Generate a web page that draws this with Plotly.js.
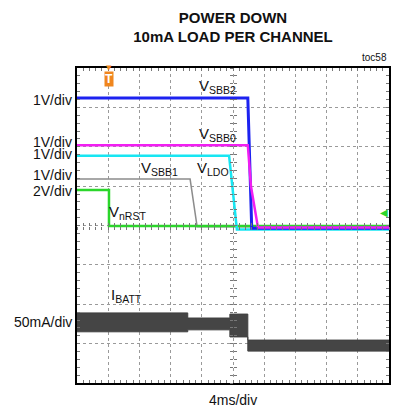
<!DOCTYPE html>
<html>
<head>
<meta charset="utf-8">
<script src="https://cdn.plot.ly/plotly-3.0.1.min.js"></script>
<style>html,body{margin:0;padding:0;background:#fff;}#chart{width:393px;height:410px;}</style>
</head>
<body>
<div id="chart"></div>
<script>
// time in ms (4 ms/div, 10 divisions), level in divisions (8 divisions)
const tSBB2 = [0, 21.9, 22.4, 40];
const vSBB2 = [7.24, 7.24, 3.93, 3.93];
const tSBB0 = [0, 21.9, 22.3, 23.2, 40];
const vSBB0 = [6.04, 6.04, 5.0, 3.95, 3.95];
const tLDO = [0, 19.5, 20.5, 40];
const vLDO = [5.77, 5.77, 3.9, 3.9];
const tSBB1 = [0, 14.5, 15.4, 40];
const vSBB1 = [5.18, 5.18, 3.97, 3.97];
const tNRST = [0, 4.1, 4.1, 40];
const vNRST = [4.9, 4.9, 3.99, 3.99];
const tBATT = [0, 14.2, 14.2, 19.6, 19.6, 21.9, 21.9, 40];
const iBATTupper = [1.78, 1.78, 1.65, 1.65, 1.75, 1.75, 1.09, 1.09];
const iBATTlower = [1.30, 1.30, 1.35, 1.35, 1.17, 1.17, 0.81, 0.81];

const scaleLabels = ['1V/div', '1V/div', '1V/div', '1V/div', '2V/div', '50mA/div'];
const scaleLevels = [7.19, 6.12, 5.82, 5.28, 4.88, 1.55];

const FONT = 'Liberation Sans, Arial, sans-serif';

const traces = [
  {x: [], y: [], xaxis: 'x4', yaxis: 'y4', mode: 'lines'},
  {x: tSBB1, y: vSBB1, mode: 'lines', line: {color: '#8c8c8c', width: 1.5}, name: 'VSBB1'},
  {x: tNRST, y: vNRST, mode: 'lines', line: {color: '#2bd62b', width: 2.5}, name: 'VnRST'},
  {x: tLDO, y: vLDO, mode: 'lines', line: {color: '#17e6f2', width: 2.5}, name: 'VLDO'},
  {x: tSBB2, y: vSBB2, mode: 'lines', line: {color: '#1c22f0', width: 3}, name: 'VSBB2'},
  {x: tSBB0, y: vSBB0, mode: 'lines', line: {color: '#f21ef2', width: 2.5}, name: 'VSBB0'},
  {x: tBATT, y: iBATTlower, mode: 'lines', line: {color: '#404040', width: 1}, name: 'IBATT lo'},
  {x: tBATT, y: iBATTupper, mode: 'lines', fill: 'tonexty', fillcolor: '#454545', line: {color: '#404040', width: 1}, name: 'IBATT hi'},
  {x: [], y: [], xaxis: 'x2', yaxis: 'y', mode: 'lines'},
  {x: [], y: [], xaxis: 'x3', yaxis: 'y', mode: 'lines'},
  {x: [], y: [], xaxis: 'x', yaxis: 'y2', mode: 'lines'},
  {x: [], y: [], xaxis: 'x', yaxis: 'y3', mode: 'lines'}
];

const annotations = [];
scaleLabels.forEach((t, i) => {
  annotations.push({text: t, xref: 'paper', x: 0, xanchor: 'right', xshift: -3, yref: 'y', y: scaleLevels[i], yanchor: 'middle', showarrow: false, font: {family: FONT, size: 14, color: '#111'}});
});
const traceLabels = [
  {text: 'V<sub>SBB2</sub>', x: 17.95, y: 7.54},
  {text: 'V<sub>SBB0</sub>', x: 17.95, y: 6.32},
  {text: 'V<sub>SBB1</sub>', x: 10.6, y: 5.46},
  {text: 'V<sub>LDO</sub>', x: 17.4, y: 5.46},
  {text: 'V<sub>nRST</sub>', x: 6.5, y: 4.34},
  {text: 'I<sub>BATT</sub>', x: 6.3, y: 2.21}
];
traceLabels.forEach(a => annotations.push({text: a.text, x: a.x, y: a.y, xref: 'x', yref: 'y', showarrow: false, font: {family: FONT, size: 15, color: '#111'}}));
annotations.push({text: '4ms/div', xref: 'paper', x: 0.5, yref: 'paper', y: 0, yshift: -17, yanchor: 'middle', showarrow: false, font: {family: FONT, size: 14, color: '#111'}});
annotations.push({text: 'toc58', xref: 'paper', x: 1, xanchor: 'right', yref: 'paper', y: 1, yanchor: 'bottom', yshift: 3, showarrow: false, font: {family: FONT, size: 10, color: '#111'}});
annotations.push({text: '<b>T</b>', xref: 'x', x: 4.1, yref: 'paper', y: 1, yanchor: 'top', yshift: -3, showarrow: false, bgcolor: '#f0861e', borderpad: 0, font: {family: FONT, size: 12, color: '#fff'}});
annotations.push({text: '▼', xref: 'x', x: 4.1, yref: 'paper', y: 1, yanchor: 'middle', yshift: 0, showarrow: false, font: {family: 'DejaVu Sans, sans-serif', size: 7, color: '#f0861e'}});
annotations.push({text: '◀', xref: 'x', x: 39.4, yref: 'y', y: 4.32, showarrow: false, font: {family: 'DejaVu Sans, sans-serif', size: 10, color: '#2bd62b'}});

const gridAx = {showticklabels: false, zeroline: false, showgrid: false,
  showline: true, linecolor: '#000', linewidth: 2, mirror: 'ticks', ticks: 'inside', ticklen: 3, tickcolor: '#777', tickwidth: 1};
const centreAx = {showticklabels: false, zeroline: false, showgrid: false, showline: false, tickcolor: '#777', tickwidth: 1, ticklen: 3};

const layout = {
  width: 393, height: 410,
  margin: {l: 77, r: 4, t: 68, b: 27},
  paper_bgcolor: '#fff', plot_bgcolor: '#fff',
  showlegend: false,
  title: {text: '<b>POWER DOWN</b><br><b>10mA LOAD PER CHANNEL</b>', x: 0.5, xref: 'paper', yref: 'container', y: 0.945, yanchor: 'top', font: {family: FONT, size: 15, color: '#111'}},
  xaxis: Object.assign({}, gridAx, {range: [0, 40], dtick: 0.8, tick0: 0}),
  yaxis: Object.assign({}, gridAx, {range: [0, 8], dtick: 0.2, tick0: 0}),
  xaxis2: Object.assign({}, centreAx, {range: [0, 40], overlaying: 'x', anchor: 'free', position: 0.5, dtick: 0.8, ticks: 'inside'}),
  xaxis3: Object.assign({}, centreAx, {range: [0, 40], overlaying: 'x', anchor: 'free', position: 0.5, dtick: 0.8, ticks: 'outside'}),
  yaxis2: Object.assign({}, centreAx, {range: [0, 8], overlaying: 'y', anchor: 'free', position: 0.5, dtick: 0.2, ticks: 'inside'}),
  yaxis3: Object.assign({}, centreAx, {range: [0, 8], overlaying: 'y', anchor: 'free', position: 0.5, dtick: 0.2, ticks: 'outside'}),
  xaxis4: {range: [0, 40], overlaying: 'x', dtick: 4, tick0: 0, showgrid: true, griddash: 'dot', gridcolor: '#9a9a9a', showticklabels: false, ticks: '', zeroline: false, showline: false},
  yaxis4: {range: [0, 8], overlaying: 'y', dtick: 1, tick0: 0, showgrid: true, griddash: 'dot', gridcolor: '#9a9a9a', showticklabels: false, ticks: '', zeroline: false, showline: false},
  annotations: annotations
};

Plotly.newPlot('chart', traces, layout, {staticPlot: true, displayModeBar: false});
</script>
</body>
</html>
